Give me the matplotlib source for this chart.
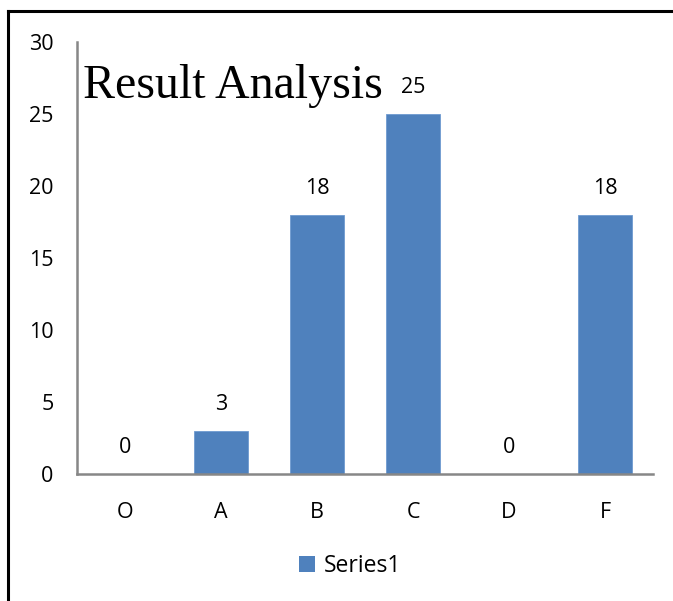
import matplotlib.pyplot as plt
from matplotlib.lines import Line2D
from matplotlib.patches import Patch

categories = ["O", "A", "B", "C", "D", "F"]
values = [0, 3, 18, 25, 0, 18]
yticks = [0, 5, 10, 15, 20, 25, 30]

W, H = 673, 601
BLUE = "#4F81BD"
AXIS = "#878787"
FONT = ["Open Sans", "DejaVu Sans"]
FS = 15.5

fig = plt.figure(figsize=(W / 100, H / 100), dpi=100)

# plot area in pixels: x 77..653, y 42..474
ax = fig.add_axes([77 / W, 1 - 474 / H, (653 - 77) / W, (474 - 42) / H])
x = list(range(len(categories)))
ax.bar(x, values, width=0.56, color=BLUE, edgecolor="#6f9bd1", linewidth=0.6)
ax.set_xlim(-0.5, len(categories) - 0.5)
ax.set_ylim(0, 30)
ax.set_yticks(yticks)
ax.set_xticks(x)
ax.set_xticklabels(categories)

for s in ["top", "right"]:
    ax.spines[s].set_visible(False)
for s in ["left", "bottom"]:
    ax.spines[s].set_color(AXIS)
    ax.spines[s].set_linewidth(1.8)

ax.tick_params(axis="both", length=0, labelsize=FS, labelcolor="black")
ax.tick_params(axis="y", pad=17)
ax.tick_params(axis="x", pad=20)
for lab in ax.get_xticklabels() + ax.get_yticklabels():
    lab.set_family(FONT)

for xi, v in zip(x, values):
    ax.annotate(str(v), (xi, v), xytext=(0, 19), textcoords="offset points",
                ha="center", va="center", fontsize=FS, family=FONT)

fig.text(83 / W, 1 - 86 / H, "Result Analysis", fontsize=34.5,
         family="Liberation Serif", ha="left", va="center")

fig.legend(handles=[Patch(facecolor=BLUE, label="Series1")],
           loc="center", bbox_to_anchor=(350 / W, 1 - 566 / H),
           frameon=False, handlelength=0.7, handleheight=0.7,
           handletextpad=0.4, prop={"family": FONT, "size": FS + 1})

# outer border, only top and left edges are visible in the crop
fig.add_artist(Line2D([8 / W, 1], [1 - 11 / H, 1 - 11 / H], color="black", lw=2.2,
                      transform=fig.transFigure))
fig.add_artist(Line2D([8 / W, 8 / W], [0, 1 - 11 / H], color="black", lw=2.2,
                      transform=fig.transFigure))

fig.savefig("out.png", dpi=100)
